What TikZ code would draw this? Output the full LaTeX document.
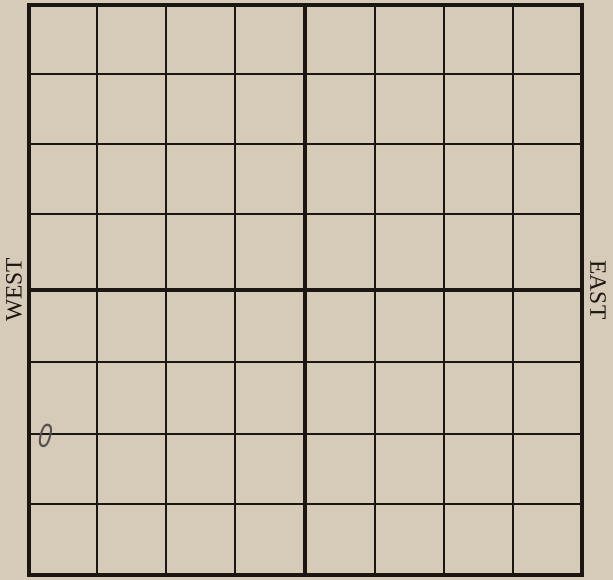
\documentclass[tikz,border=0pt]{standalone}
\usepackage{fontspec}
\setmainfont{Liberation Serif}
\newfontfamily\markfont{Liberation Sans}
\definecolor{paper}{RGB}{214,202,184}
\definecolor{ink}{RGB}{28,22,18}
\definecolor{pencil}{RGB}{85,80,82}
\begin{document}
\begin{tikzpicture}[x=1pt,y=-1pt,
  thin grid/.style={draw=ink,line width=1.9pt},
  thick grid/.style={draw=ink,line width=4.6pt},
  label/.style={font=\fontsize{23.5}{23.5}\selectfont,text=ink,inner sep=0pt},
  mark0/.style={font=\markfont\fontsize{34}{34}\selectfont,text=pencil,inner sep=0pt}]
\fill[paper] (0,0) rectangle (613,580);
\useasboundingbox (0,0) rectangle (613,580);
% thin vertical lines
\foreach \x in {97,166,235,375,444,513}
  \draw[thin grid] (\x,5) -- (\x,575);
% thin horizontal lines
\foreach \y in {74,144,214,362,434,504}
  \draw[thin grid] (29,\y) -- (582,\y);
% thick middle lines
\draw[thick grid] (305,5) -- (305,575);
\draw[thick grid] (29,290) -- (582,290);
% frame
\draw[thick grid] (29,5) rectangle (582,575);
% labels
\node[label,rotate=90] (west) at (14,290) {WEST};
\node[label,rotate=-90] (east) at (598,290) {EAST};
\node[mark0,rotate=-15,xscale=0.7] (zero) at (46,436) {0};
\end{tikzpicture}
\end{document}
